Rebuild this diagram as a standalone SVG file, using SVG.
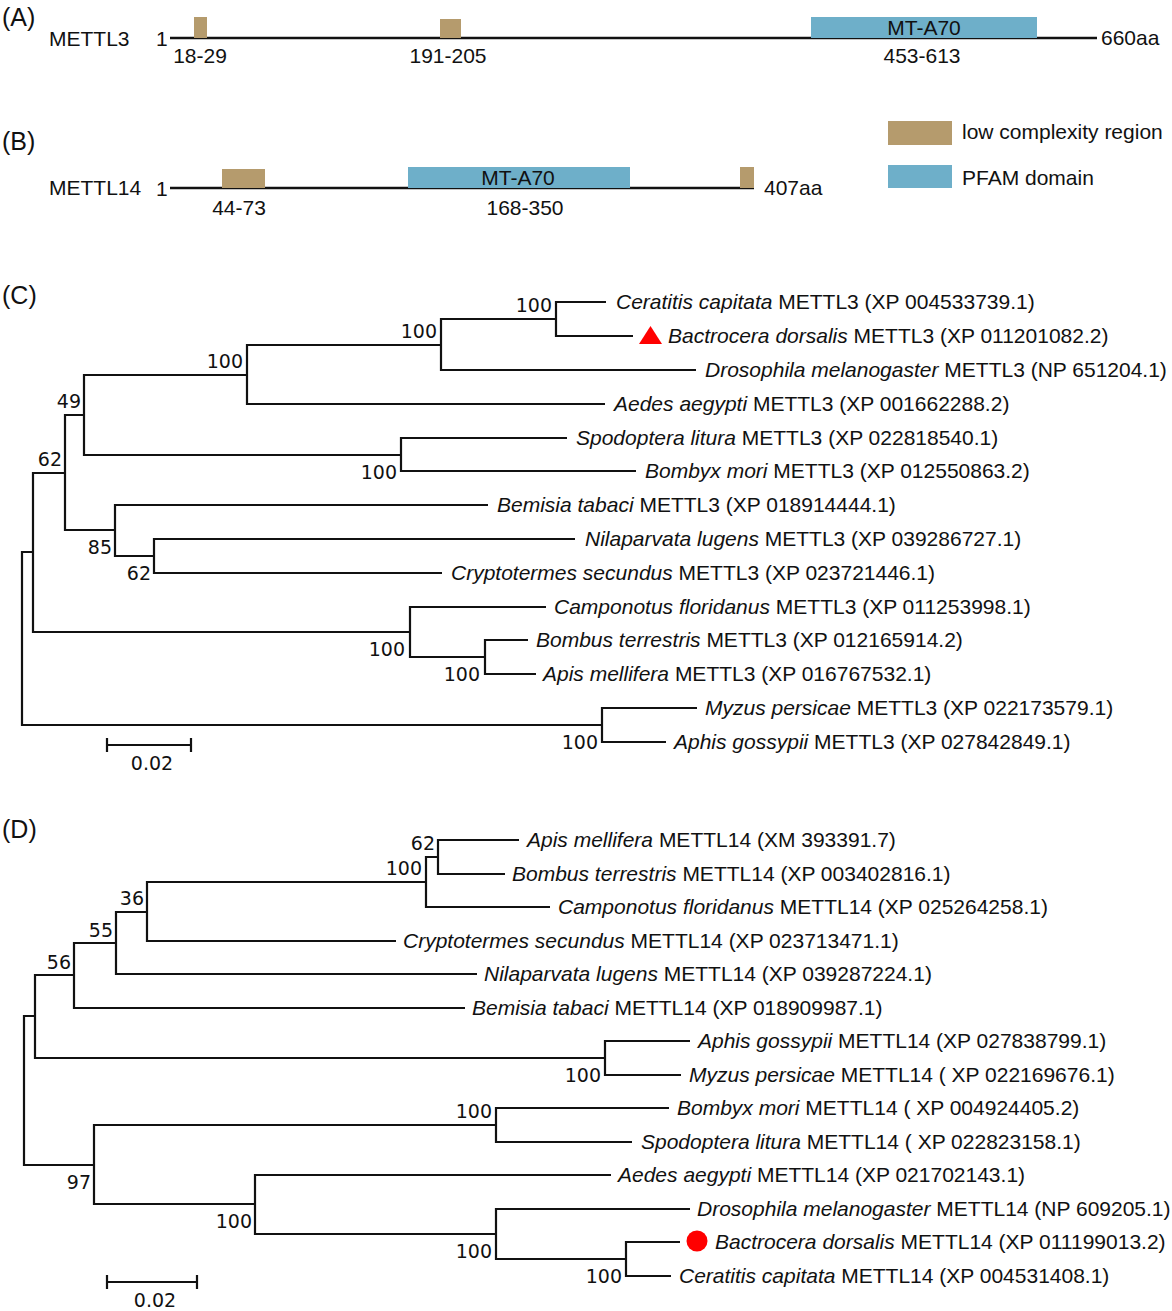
<svg xmlns="http://www.w3.org/2000/svg" width="1172" height="1311" viewBox="0 0 1172 1311">
<style>
text{font-family:"Liberation Sans",Arial,sans-serif;font-size:21px;fill:#111}
.pl{font-size:25px}
.sp{font-style:italic}
.mid{text-anchor:middle}
.bs{font-family:"DejaVu Sans",sans-serif;font-size:19px;text-anchor:end}
.sc{font-family:"DejaVu Sans",sans-serif;font-size:19px;text-anchor:middle}
.br{fill:none;stroke:#111;stroke-width:2.2}
.ax{fill:none;stroke:#111;stroke-width:2.6}
.lc{fill:#b59b6d}
.pf{fill:#6eafc9}
.mk{fill:#ff0000}
</style>
<rect width="1172" height="1311" fill="#fff"/>

<!-- Panel A -->
<g id="panelA">
<text class="pl" x="2" y="26">(A)</text>
<text x="49" y="46">METTL3</text>
<text x="156" y="46">1</text>
<line class="ax" x1="170" y1="38" x2="1097" y2="38"/>
<g id="A_lcr1"><rect class="lc" x="194" y="17" width="13" height="21"/><text class="mid" x="200" y="63">18-29</text></g>
<g id="A_lcr2"><rect class="lc" x="440" y="19" width="21" height="19"/><text class="mid" x="448" y="63">191-205</text></g>
<g id="A_pfam"><rect class="pf" x="811" y="17" width="226" height="21"/><text class="mid" x="924" y="35">MT-A70</text><text class="mid" x="922" y="63">453-613</text></g>
<text x="1101" y="45">660aa</text>
</g>

<!-- Panel B -->
<g id="panelB">
<text class="pl" x="2" y="150">(B)</text>
<text x="49" y="195">METTL14</text>
<text x="156" y="196">1</text>
<line class="ax" x1="170" y1="188" x2="754" y2="188"/>
<g id="B_lcr1"><rect class="lc" x="222" y="169" width="43" height="19"/><text class="mid" x="239" y="215">44-73</text></g>
<g id="B_pfam"><rect class="pf" x="408" y="167" width="222" height="21"/><text class="mid" x="518" y="185">MT-A70</text><text class="mid" x="525" y="215">168-350</text></g>
<g id="B_lcr2"><rect class="lc" x="740" y="167" width="14" height="21"/></g>
<text x="764" y="195">407aa</text>
</g>

<!-- Legend -->
<g id="legend">
<g id="leg_lcr"><rect class="lc" x="888" y="121" width="64" height="24"/><text x="962" y="139">low complexity region</text></g>
<g id="leg_pfam"><rect class="pf" x="888" y="165" width="64" height="23"/><text x="962" y="185">PFAM domain</text></g>
</g>

<!-- Panel C -->
<text class="pl" x="2" y="304">(C)</text>
<g id="treeC_connectors">
<path class="br" d="M606,302 H556 V336 H633"/>
<path class="br" d="M556,319 H441 V370 H696"/>
<path class="br" d="M441,345 H247 V404 H605"/>
<path class="br" d="M567,438 H401 V471 H636"/>
<path class="br" d="M247,375 H84 V455 H401"/>
<path class="br" d="M575,539 H154 V573 H442"/>
<path class="br" d="M488,505 H115 V556 H154"/>
<path class="br" d="M84,415 H65 V530 H115"/>
<path class="br" d="M528,640 H485 V674 H536"/>
<path class="br" d="M546,607 H410 V657 H485"/>
<path class="br" d="M65,473 H33 V632 H410"/>
<path class="br" d="M697,708 H602 V742 H666"/>
<path class="br" d="M33,552 H22 V725 H602"/>
</g>
<g id="treeC_support">
<text class="bs" x="552" y="312">100</text>
<text class="bs" x="437" y="338">100</text>
<text class="bs" x="243" y="368">100</text>
<text class="bs" x="81" y="408">49</text>
<text class="bs" x="62" y="466">62</text>
<text class="bs" x="397" y="479">100</text>
<text class="bs" x="112" y="554">85</text>
<text class="bs" x="151" y="580">62</text>
<text class="bs" x="405" y="656">100</text>
<text class="bs" x="480" y="681">100</text>
<text class="bs" x="598" y="749">100</text>
</g>
<g id="C_Ccap"><text x="616" y="309"><tspan class="sp">Ceratitis capitata</tspan> METTL3 (XP 004533739.1)</text></g>
<g id="C_Bdor"><polygon class="mk" points="650.5,326 639,344 662,344"/><text x="668" y="343"><tspan class="sp">Bactrocera dorsalis</tspan> METTL3 (XP 011201082.2)</text></g>
<g id="C_Dmel"><text x="705" y="377"><tspan class="sp">Drosophila melanogaster</tspan> METTL3 (NP 651204.1)</text></g>
<g id="C_Aaeg"><text x="614" y="411"><tspan class="sp">Aedes aegypti</tspan> METTL3 (XP 001662288.2)</text></g>
<g id="C_Slit"><text x="576" y="445"><tspan class="sp">Spodoptera litura</tspan> METTL3 (XP 022818540.1)</text></g>
<g id="C_Bmor"><text x="645" y="478"><tspan class="sp">Bombyx mori</tspan> METTL3 (XP 012550863.2)</text></g>
<g id="C_Btab"><text x="497" y="512"><tspan class="sp">Bemisia tabaci</tspan> METTL3 (XP 018914444.1)</text></g>
<g id="C_Nlug"><text x="585" y="546"><tspan class="sp">Nilaparvata lugens</tspan> METTL3 (XP 039286727.1)</text></g>
<g id="C_Csec"><text x="451" y="580"><tspan class="sp">Cryptotermes secundus</tspan> METTL3 (XP 023721446.1)</text></g>
<g id="C_Cflo"><text x="554" y="614"><tspan class="sp">Camponotus floridanus</tspan> METTL3 (XP 011253998.1)</text></g>
<g id="C_Bter"><text x="536" y="647"><tspan class="sp">Bombus terrestris</tspan> METTL3 (XP 012165914.2)</text></g>
<g id="C_Amel"><text x="543" y="681"><tspan class="sp">Apis mellifera</tspan> METTL3 (XP 016767532.1)</text></g>
<g id="C_Mper"><text x="705" y="715"><tspan class="sp">Myzus persicae</tspan> METTL3 (XP 022173579.1)</text></g>
<g id="C_Agos"><text x="674" y="749"><tspan class="sp">Aphis gossypii</tspan> METTL3 (XP 027842849.1)</text></g>
<g id="C_scale"><path class="br" d="M107,738 V752 M107,745 H191 M191,738 V752"/><text class="sc" x="152" y="770">0.02</text></g>

<!-- Panel D -->
<text class="pl" x="2" y="838">(D)</text>
<g id="treeD_connectors">
<path class="br" d="M519,840 H438 V874 H505"/>
<path class="br" d="M438,857 H426 V907 H550"/>
<path class="br" d="M426,882 H147 V941 H396"/>
<path class="br" d="M147,912 H116 V974 H477"/>
<path class="br" d="M116,943 H74 V1008 H465"/>
<path class="br" d="M690,1041 H605 V1075 H681"/>
<path class="br" d="M74,975 H35 V1058 H605"/>
<path class="br" d="M669,1108 H496 V1142 H632"/>
<path class="br" d="M680,1242 H626 V1276 H671"/>
<path class="br" d="M690,1209 H496 V1259 H626"/>
<path class="br" d="M611,1175 H255 V1234 H496"/>
<path class="br" d="M496,1125 H94 V1204 H255"/>
<path class="br" d="M35,1016 H24 V1165 H94"/>
</g>
<g id="treeD_support">
<text class="bs" x="435" y="850">62</text>
<text class="bs" x="422" y="875">100</text>
<text class="bs" x="144" y="905">36</text>
<text class="bs" x="113" y="937">55</text>
<text class="bs" x="71" y="969">56</text>
<text class="bs" x="601" y="1082">100</text>
<text class="bs" x="492" y="1118">100</text>
<text class="bs" x="91" y="1189">97</text>
<text class="bs" x="252" y="1228">100</text>
<text class="bs" x="492" y="1258">100</text>
<text class="bs" x="622" y="1283">100</text>
</g>
<g id="D_Amel"><text x="527" y="847"><tspan class="sp">Apis mellifera</tspan> METTL14 (XM 393391.7)</text></g>
<g id="D_Bter"><text x="512" y="881"><tspan class="sp">Bombus terrestris</tspan> METTL14 (XP 003402816.1)</text></g>
<g id="D_Cflo"><text x="558" y="914"><tspan class="sp">Camponotus floridanus</tspan> METTL14 (XP 025264258.1)</text></g>
<g id="D_Csec"><text x="403" y="948"><tspan class="sp">Cryptotermes secundus</tspan> METTL14 (XP 023713471.1)</text></g>
<g id="D_Nlug"><text x="484" y="981"><tspan class="sp">Nilaparvata lugens</tspan> METTL14 (XP 039287224.1)</text></g>
<g id="D_Btab"><text x="472" y="1015"><tspan class="sp">Bemisia tabaci</tspan> METTL14 (XP 018909987.1)</text></g>
<g id="D_Agos"><text x="698" y="1048"><tspan class="sp">Aphis gossypii</tspan> METTL14 (XP 027838799.1)</text></g>
<g id="D_Mper"><text x="689" y="1082"><tspan class="sp">Myzus persicae</tspan> METTL14 ( XP 022169676.1)</text></g>
<g id="D_Bmor"><text x="677" y="1115"><tspan class="sp">Bombyx mori</tspan> METTL14 ( XP 004924405.2)</text></g>
<g id="D_Slit"><text x="641" y="1149"><tspan class="sp">Spodoptera litura</tspan> METTL14 ( XP 022823158.1)</text></g>
<g id="D_Aaeg"><text x="618" y="1182"><tspan class="sp">Aedes aegypti</tspan> METTL14 (XP 021702143.1)</text></g>
<g id="D_Dmel"><text x="697" y="1216"><tspan class="sp">Drosophila melanogaster</tspan> METTL14 (NP 609205.1)</text></g>
<g id="D_Bdor"><circle class="mk" cx="697" cy="1241" r="10.5"/><text x="715" y="1249"><tspan class="sp">Bactrocera dorsalis</tspan> METTL14 (XP 011199013.2)</text></g>
<g id="D_Ccap"><text x="679" y="1283"><tspan class="sp">Ceratitis capitata</tspan> METTL14 (XP 004531408.1)</text></g>
<g id="D_scale"><path class="br" d="M107,1275 V1289 M107,1282 H197 M197,1275 V1289"/><text class="sc" x="155" y="1307">0.02</text></g>
</svg>
